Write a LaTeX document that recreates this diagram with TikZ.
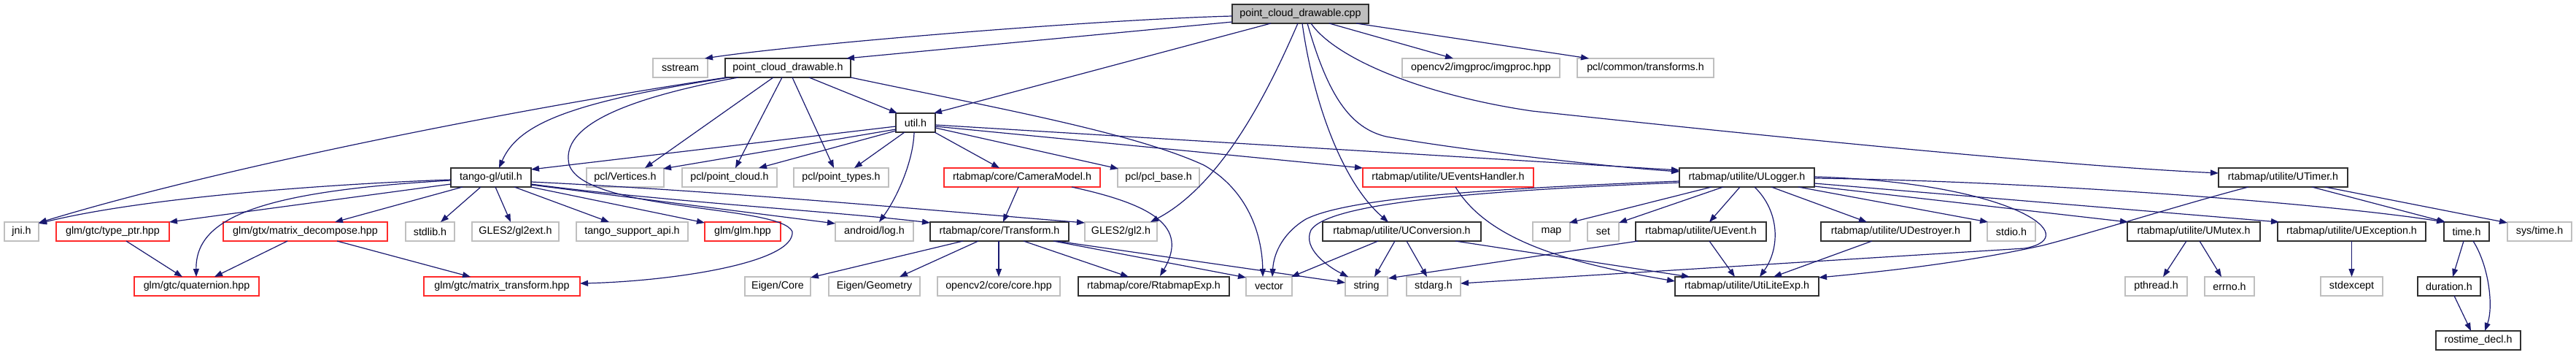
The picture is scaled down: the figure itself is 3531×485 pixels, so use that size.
\documentclass[tikz,border=0pt]{standalone}
\usepackage{fontspec}
\setmainfont{Liberation Sans}
\usetikzlibrary{arrows.meta,calc}
\definecolor{edgeblue}{HTML}{191970}
\definecolor{greyb}{HTML}{BFBFBF}
\definecolor{redb}{HTML}{FF2A2A}
\definecolor{darkb}{HTML}{303030}
\begin{document}
\begin{tikzpicture}[x=1pt,y=-1pt,
  box/.style={rectangle, line width=1.5pt, minimum height=26, inner sep=0pt, fill=white,
    font=\fontsize{14.3}{17}\selectfont, text=black},
  bk/.style={box, draw=darkb},
  gr/.style={box, draw=greyb},
  rd/.style={box, draw=redb},
  e/.style={draw=edgeblue, line width=1.2pt, -{Triangle[length=11pt,width=8pt]}}]
\useasboundingbox (0,0) rectangle (3531,485);
% row 1
\node[bk, fill=greyb, minimum width=187] (cpp) at (1782.5,19) {point\_cloud\_drawable.cpp};
% row 2
\node[gr, minimum width=75] (sstream) at (932.5,93) {sstream};
\node[bk, minimum width=172] (pcd) at (1080,93) {point\_cloud\_drawable.h};
\node[gr, minimum width=216] (imgproc) at (2030,93) {opencv2/imgproc/imgproc.hpp};
\node[gr, minimum width=187] (transforms) at (2255.5,93) {pcl/common/transforms.h};
% row 3
\node[bk, minimum width=54] (util) at (1255,168) {util.h};
% row 4
\node[bk, minimum width=110] (tango) at (673,243) {tango-gl/util.h};
\node[gr, minimum width=106] (vertices) at (857,243) {pcl/Vertices.h};
\node[gr, minimum width=130] (pcloud) at (1000,243) {pcl/point\_cloud.h};
\node[gr, minimum width=130] (ptypes) at (1153,243) {pcl/point\_types.h};
\node[rd, minimum width=214] (cammodel) at (1401,243) {rtabmap/core/CameraModel.h};
\node[gr, minimum width=112] (pclbase) at (1588,243) {pcl/pcl\_base.h};
\node[rd, minimum width=234] (ueh) at (1985,243) {rtabmap/utilite/UEventsHandler.h};
\node[bk, minimum width=185] (ulogger) at (2394.5,243) {rtabmap/utilite/ULogger.h};
\node[bk, minimum width=177] (utimer) at (3129.5,243) {rtabmap/utilite/UTimer.h};
% row 5
\node[gr, minimum width=47] (jni) at (29.5,317) {jni.h};
\node[rd, minimum width=155] (typeptr) at (154.5,317) {glm/gtc/type\_ptr.hpp};
\node[rd, minimum width=225] (matdec) at (418.5,317) {glm/gtx/matrix\_decompose.hpp};
\node[gr, minimum width=67] (stdlib) at (589.5,317) {stdlib.h};
\node[gr, minimum width=119] (gl2ext) at (706.5,317) {GLES2/gl2ext.h};
\node[gr, minimum width=153] (tsapi) at (866.5,317) {tango\_support\_api.h};
\node[rd, minimum width=104] (glmhpp) at (1018,317) {glm/glm.hpp};
\node[gr, minimum width=107] (alog) at (1198.5,317) {android/log.h};
\node[bk, minimum width=190] (transform) at (1370,317) {rtabmap/core/Transform.h};
\node[gr, minimum width=99] (gltwo) at (1536.5,317) {GLES2/gl2.h};
\node[bk, minimum width=217] (uconv) at (1921.5,317) {rtabmap/utilite/UConversion.h};
\node[gr, minimum width=51] (nmap) at (2126.5,317) {map};
\node[gr, minimum width=43] (nset) at (2197.5,317) {set};
\node[bk, minimum width=179] (uevent) at (2331.5,317) {rtabmap/utilite/UEvent.h};
\node[bk, minimum width=205] (udestroyer) at (2598.5,317) {rtabmap/utilite/UDestroyer.h};
\node[gr, minimum width=66] (stdio) at (2757,317) {stdio.h};
\node[bk, minimum width=182] (umutex) at (3007,317) {rtabmap/utilite/UMutex.h};
\node[bk, minimum width=203] (uexception) at (3223.5,317) {rtabmap/utilite/UException.h};
\node[bk, minimum width=62] (timeh) at (3381,317) {time.h};
\node[gr, minimum width=88] (systime) at (3481,317) {sys/time.h};
% row 6
\node[rd, minimum width=171] (quat) at (269.5,392) {glm/gtc/quaternion.hpp};
\node[rd, minimum width=214] (mattr) at (688,392) {glm/gtc/matrix\_transform.hpp};
\node[gr, minimum width=90] (eigencore) at (1066,392) {Eigen/Core};
\node[gr, minimum width=125] (eigengeom) at (1198.5,392) {Eigen/Geometry};
\node[gr, minimum width=168] (cvcore) at (1369,392) {opencv2/core/core.hpp};
\node[bk, minimum width=207] (rtexp) at (1581.5,392) {rtabmap/core/RtabmapExp.h};
\node[gr, minimum width=63] (nvector) at (1739.5,392) {vector};
\node[gr, minimum width=58] (nstring) at (1873,392) {string};
\node[gr, minimum width=74] (stdarg) at (1965,392) {stdarg.h};
\node[bk, minimum width=197] (utilite) at (2394.5,392) {rtabmap/utilite/UtiLiteExp.h};
\node[gr, minimum width=85] (pthread) at (2955.5,392) {pthread.h};
\node[gr, minimum width=68] (nerrno) at (3056,392) {errno.h};
\node[gr, minimum width=85] (stdexcept) at (3223.5,392) {stdexcept};
\node[bk, minimum width=86] (duration) at (3357,392) {duration.h};
% row 7
\node[bk, minimum width=116] (rostime) at (3397,466) {rostime\_decl.h};

% edges from point_cloud_drawable.cpp
\draw[e] ($(cpp)+(-93.5,3)$) .. controls (1500,27) and (1100,60) .. ($(sstream)+(33.5,-13)$);
\draw[e] ($(cpp)+(-93.5,11)$) -- ($(pcd)+(80,-13)$);
\draw[e] ($(cpp)+(-40.5,13)$) -- ($(util)+(25,-13)$);
\draw[e] ($(cpp)+(-3.5,13)$) .. controls (1745,110) and (1680,250) .. ($(gltwo)+(40.5,-13)$);
\draw[e] ($(cpp)+(2.5,13)$) .. controls (1800,140) and (1840,250) .. ($(uconv)+(-18.5,-13)$);
\draw[e] ($(cpp)+(9.5,13)$) .. controls (1820,130) and (1850,175) .. (1900,187) .. controls (2000,205) and (2200,228) .. ($(ulogger)+(-92.5,-8)$);
\draw[e] ($(cpp)+(14.5,13)$) .. controls (1830,80) and (1950,130) .. (2100,152) .. controls (2500,195) and (2850,228) .. ($(utimer)+(-88.5,-6)$);
\draw[e] ($(cpp)+(39.5,13)$) -- ($(imgproc)+(-38,-13)$);
\draw[e] ($(cpp)+(76.5,13)$) -- ($(transforms)+(-77.5,-13)$);

% edges from point_cloud_drawable.h
\draw[e] ($(pcd)+(-84,13)$) .. controls (700,150) and (300,230) .. ($(jni)+(23.5,-12)$);
\draw[e] ($(pcd)+(-80,13)$) .. controls (780,140) and (710,170) .. ($(tango)+(11,-13)$);
\draw[e] ($(pcd)+(-68,13)$) .. controls (830,140) and (770,180) .. (780,225) .. controls (800,290) and (1070,280) .. (1086,317) .. controls (1090,360) and (920,385) .. ($(mattr)+(107,-4)$);
\draw[e] ($(pcd)+(-20,13)$) -- ($(vertices)+(27,-13)$);
\draw[e] ($(pcd)+(-8,13)$) -- ($(pcloud)+(8,-13)$);
\draw[e] ($(pcd)+(6,13)$) -- ($(ptypes)+(-10,-13)$);
\draw[e] ($(pcd)+(29,13)$) -- ($(util)+(-25,-13)$);
\draw[e] ($(pcd)+(86,13)$) .. controls (1350,145) and (1550,180) .. (1650,226) .. controls (1710,260) and (1730,320) .. ($(nvector)+(-8.5,-13)$);

% edges from util.h
\draw[e] ($(util)+(-27,5)$) -- ($(tango)+(55,-11)$);
\draw[e] ($(util)+(-27,9)$) -- ($(vertices)+(52,-12)$);
\draw[e] ($(util)+(-27,11)$) -- ($(pcloud)+(40,-13)$);
\draw[e] ($(util)+(-15,13)$) -- ($(ptypes)+(18,-13)$);
\draw[e] ($(util)+(-2,13)$) .. controls (1252,220) and (1230,270) .. ($(alog)+(6.5,-13)$);
\draw[e] ($(util)+(26,13)$) -- ($(cammodel)+(-31,-13)$);
\draw[e] ($(util)+(27,7)$) -- ($(pclbase)+(-55,-12)$);
\draw[e] ($(util)+(27,5)$) -- ($(ueh)+(-117,-13)$);
\draw[e] ($(util)+(27,3)$) -- ($(ulogger)+(-92.5,-10)$);

% edges from tango-gl/util.h
\draw[e] ($(tango)+(-55,3)$) .. controls (450,252) and (200,270) .. ($(jni)+(23.5,-11)$);
\draw[e] ($(tango)+(-55,4)$) .. controls (350,262) and (268,300) .. ($(quat)+(-0.5,-13)$);
\draw[e] ($(tango)+(-55,9)$) -- ($(typeptr)+(77.5,-13)$);
\draw[e] ($(tango)+(-39,13)$) -- ($(matdec)+(40.5,-13)$);
\draw[e] ($(tango)+(-14,13)$) -- ($(stdlib)+(14.5,-13)$);
\draw[e] ($(tango)+(6,13)$) -- ($(gl2ext)+(-6.5,-13)$);
\draw[e] ($(tango)+(32,13)$) -- ($(tsapi)+(-31.5,-13)$);
\draw[e] ($(tango)+(54.5,13)$) -- ($(glmhpp)+(-52,-12)$);
\draw[e] ($(tango)+(55,10)$) -- ($(alog)+(-53.5,-11)$);
\draw[e] ($(tango)+(55,9)$) .. controls (900,275) and (1150,290) .. ($(transform)+(-95,-12)$);
\draw[e] ($(tango)+(55,6)$) .. controls (1000,262) and (1300,290) .. ($(gltwo)+(-49.5,-12)$);

% CameraModel
\draw[e] ($(cammodel)+(-5,13)$) -- ($(transform)+(5,-13)$);
\draw[e] ($(cammodel)+(68,13)$) .. controls (1580,280) and (1630,310) .. ($(rtexp)+(8.5,-14)$);

% Transform
\draw[e] ($(transform)+(-50,13)$) -- ($(eigencore)+(45,-12)$);
\draw[e] ($(transform)+(-29,13)$) -- ($(eigengeom)+(34.5,-13)$);
\draw[e] ($(transform)+(-1,13)$) -- ($(cvcore)+(0,-13)$);
\draw[e] ($(transform)+(33,13)$) -- ($(rtexp)+(-34.5,-13)$);
\draw[e] ($(transform)+(74,13)$) -- ($(nvector)+(-31.5,-12)$);
\draw[e] ($(transform)+(78,13)$) -- ($(nstring)+(-29,-5)$);

% UConversion
\draw[e] ($(uconv)+(-32.5,13)$) -- ($(nvector)+(30.5,-13)$);
\draw[e] ($(uconv)+(-9.5,13)$) -- ($(nstring)+(11,-13)$);
\draw[e] ($(uconv)+(6.5,13)$) -- ($(stdarg)+(-9,-13)$);
\draw[e] ($(uconv)+(73.5,13)$) -- ($(utilite)+(-78.5,-13)$);

% ULogger
\draw[e] ($(ulogger)+(-92.5,5)$) .. controls (2050,258) and (1850,270) .. (1790,300) .. controls (1760,318) and (1746,345) .. ($(nvector)+(4.5,-13)$);
\draw[e] ($(ulogger)+(-92.5,7)$) .. controls (2000,262) and (1820,280) .. (1797,315) .. controls (1785,340) and (1820,365) .. ($(nstring)+(-25,-13)$);
\draw[e] ($(ulogger)+(-48.5,13)$) -- ($(nmap)+(24.5,-12)$);
\draw[e] ($(ulogger)+(-32.5,13)$) -- ($(nset)+(21.5,-12)$);
\draw[e] ($(ulogger)+(-9.5,13)$) -- ($(uevent)+(11.5,-13)$);
\draw[e] ($(ulogger)+(10.5,13)$) .. controls (2440,290) and (2440,340) .. ($(utilite)+(17.5,-13)$);
\draw[e] ($(ulogger)+(33.5,13)$) -- ($(udestroyer)+(-39.5,-13)$);
\draw[e] ($(ulogger)+(70.5,13)$) -- ($(stdio)+(-32,-13)$);
\draw[e] ($(ulogger)+(92.5,12)$) -- ($(umutex)+(-90,-13)$);
\draw[e] ($(ulogger)+(92.5,8)$) -- ($(uexception)+(-99.5,-13)$);
\draw[e] ($(ulogger)+(92.5,1)$) .. controls (2800,248) and (3200,280) .. ($(timeh)+(-30,-13)$);
\draw[e] ($(ulogger)+(92.5,-1)$) .. controls (2760,250) and (2860,325) .. (2775,340) -- ($(stdarg)+(37,-4)$);

% UEvent, UDestroyer, UEventsHandler
\draw[e] ($(uevent)+(11.5,13)$) -- ($(utilite)+(-16.5,-13)$);
\draw[e] ($(uevent)+(-86.5,13)$) -- ($(nstring)+(30,-11)$);
\draw[e] ($(udestroyer)+(-32.5,13)$) -- ($(utilite)+(36.5,-13)$);
\draw[e] ($(ueh)+(10,13)$) .. controls (2040,330) and (2150,360) .. ($(utilite)+(-98.5,-7)$);

% UTimer
\draw[e] ($(utimer)+(-47.5,13)$) .. controls (2990,280) and (2870,318) .. (2800,336) .. controls (2700,358) and (2600,370) .. ($(utilite)+(98.5,-12)$);
\draw[e] ($(utimer)+(39.5,13)$) -- ($(timeh)+(-29,-13)$);
\draw[e] ($(utimer)+(57.5,13)$) -- ($(systime)+(-44,-12)$);

% lower rows
\draw[e] ($(umutex)+(-10,13)$) -- ($(pthread)+(9.5,-13)$);
\draw[e] ($(umutex)+(8,13)$) -- ($(nerrno)+(-11,-13)$);
\draw[e] ($(uexception)+(0,13)$) -- ($(stdexcept)+(0,-13)$);
\draw[e] ($(timeh)+(-4,13)$) -- ($(duration)+(5,-13)$);
\draw[e] ($(timeh)+(9,13)$) .. controls (3412,365) and (3418,420) .. ($(rostime)+(9,-13)$);
\draw[e] ($(duration)+(7,13)$) -- ($(rostime)+(-10,-13)$);
\draw[e] ($(matdec)+(-24.5,13)$) -- ($(quat)+(24.5,-13)$);
\draw[e] ($(matdec)+(43.5,13)$) -- ($(mattr)+(-43,-13)$);
\draw[e] ($(typeptr)+(18.5,13)$) -- ($(quat)+(-19.5,-13)$);
\end{tikzpicture}
\end{document}
